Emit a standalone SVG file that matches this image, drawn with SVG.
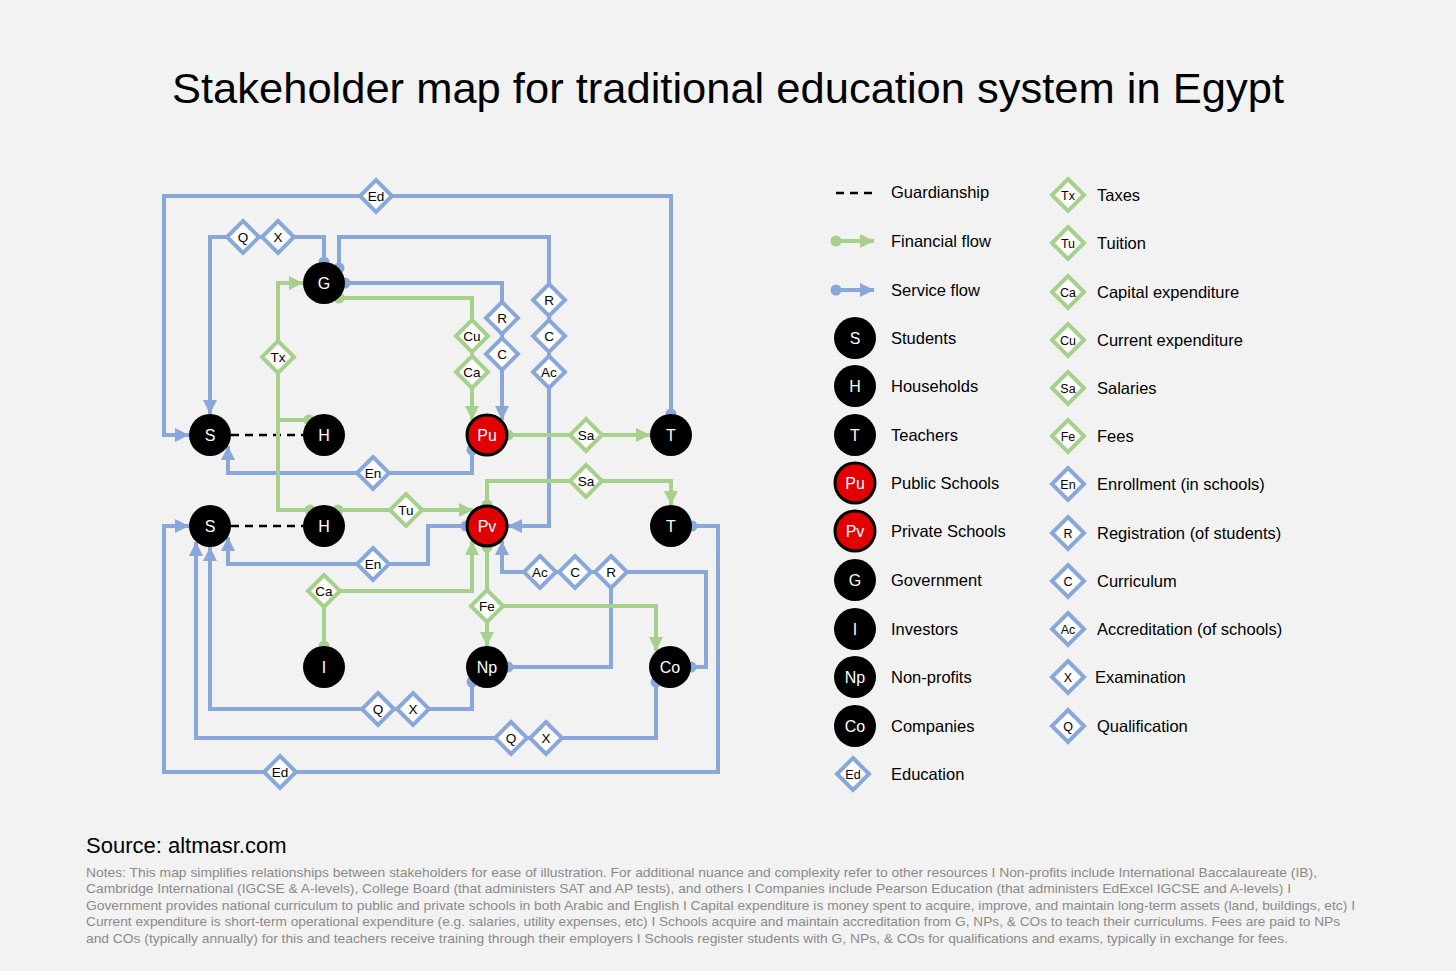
<svg xmlns="http://www.w3.org/2000/svg" width="1456" height="971" viewBox="0 0 1456 971">
<style>
text{font-family:"Liberation Sans",Arial,Helvetica,sans-serif}
.title{font-size:42px;fill:#000}
.svc{fill:none;stroke:#8aa7da;stroke-width:4;stroke-linejoin:miter}
.fin{fill:none;stroke:#a6d08c;stroke-width:4;stroke-linejoin:miter}
.guard{fill:none;stroke:#000;stroke-width:2.5;stroke-dasharray:8 6}
.nd{fill:#000}
.ndr{fill:#e00000;stroke:#000;stroke-width:3}
.nt{fill:#fff;font-size:16px;text-anchor:middle}
.db{fill:#fff;stroke:#8aa7da;stroke-width:4}
.dg{fill:#fff;stroke:#a6d08c;stroke-width:4}
.dt{fill:#000;font-size:13.5px;text-anchor:middle}
.dl{fill:#000;font-size:12.5px;text-anchor:middle}
.lt{fill:#000;font-size:16.5px}
.src{fill:#000;font-size:22px}
.note{fill:#8a8a8a;font-size:13px}
</style>
<defs>
<marker id="ab" markerUnits="userSpaceOnUse" markerWidth="14" markerHeight="14" refX="12" refY="6" orient="auto" viewBox="0 0 12 12"><path d="M0,0 L12,6 L0,12 Z" fill="#8aa7da"/></marker>
<marker id="ag" markerUnits="userSpaceOnUse" markerWidth="14" markerHeight="14" refX="12" refY="6" orient="auto" viewBox="0 0 12 12"><path d="M0,0 L12,6 L0,12 Z" fill="#a6d08c"/></marker>
<marker id="cb" markerUnits="userSpaceOnUse" markerWidth="12" markerHeight="12" refX="6" refY="6" viewBox="0 0 12 12"><circle cx="6" cy="6" r="5.5" fill="#8aa7da"/></marker>
<marker id="cg" markerUnits="userSpaceOnUse" markerWidth="12" markerHeight="12" refX="6" refY="6" viewBox="0 0 12 12"><circle cx="6" cy="6" r="5.5" fill="#a6d08c"/></marker>
<path id="dia" d="M0,-16 L16,0 L0,16 L-16,0 Z"/>
</defs>
<rect x="0" y="0" width="1456" height="971" fill="#f2f2f2"/>
<text class="title" x="172" y="103" textLength="1112" lengthAdjust="spacingAndGlyphs">Stakeholder map for traditional education system in Egypt</text>

<g id="connectors">
<path class="guard" d="M231,435 H303"/>
<path class="guard" d="M231,526 H303"/>
<path class="svc" marker-start="url(#cb)" marker-end="url(#ab)" d="M671,414 V196 H164 V435 H189"/>
<path class="svc" marker-start="url(#cb)" marker-end="url(#ab)" d="M324,262 V237 H210 V414"/>
<path class="svc" marker-start="url(#cb)" marker-end="url(#ab)" d="M339,268 V237 H549 V526 H508"/>
<path class="svc" marker-start="url(#cb)" marker-end="url(#ab)" d="M345,283 H502 V420"/>
<path class="svc" marker-start="url(#cb)" marker-end="url(#ab)" d="M472,450 V473 H228 V446"/>
<path class="svc" marker-start="url(#cb)" marker-end="url(#ab)" d="M466,526 H428 V564 H228 V537"/>
<path class="svc" marker-start="url(#cb)" marker-end="url(#ab)" d="M691,667 H706 V572 H502 V541"/>
<path class="svc" marker-start="url(#cb)" d="M508,667 H611 V572"/>
<path class="svc" marker-start="url(#cb)" marker-end="url(#ab)" d="M472,682 V709 H210 V547"/>
<path class="svc" marker-start="url(#cb)" marker-end="url(#ab)" d="M656,682 V738 H196 V542"/>
<path class="svc" marker-start="url(#cb)" marker-end="url(#ab)" d="M692,526 H718 V772 H164 V526 H189"/>
<path class="fin" marker-start="url(#cg)" marker-end="url(#ag)" d="M309,420 H278 V283 H303"/>
<path class="fin" marker-start="url(#cg)" d="M310,510 H278 V418"/>
<path class="fin" marker-start="url(#cg)" marker-end="url(#ag)" d="M339,298 H472 V420"/>
<path class="fin" marker-start="url(#cg)" marker-end="url(#ag)" d="M338,510 H473"/>
<path class="fin" marker-start="url(#cg)" marker-end="url(#ag)" d="M508,435 H650"/>
<path class="fin" marker-start="url(#cg)" marker-end="url(#ag)" d="M487,505 V481 H671 V505"/>
<path class="fin" marker-start="url(#cg)" marker-end="url(#ag)" d="M324,646 V591 H472 V541"/>
<path class="fin" marker-start="url(#cg)" marker-end="url(#ag)" d="M487,547 V646"/>
<path class="fin" marker-end="url(#ag)" d="M487,606 H656 V651"/>
</g>

<g id="edge-labels">
<g id="lbl-ed1"><use href="#dia" class="db" x="376" y="196"/><text class="dt" x="376" y="201">Ed</text></g>
<g id="lbl-q1"><use href="#dia" class="db" x="243" y="237"/><text class="dt" x="243" y="242">Q</text></g>
<g id="lbl-x1"><use href="#dia" class="db" x="278" y="237"/><text class="dt" x="278" y="242">X</text></g>
<g id="lbl-tx"><use href="#dia" class="dg" x="278" y="357"/><text class="dt" x="278" y="362">Tx</text></g>
<g id="lbl-cu"><use href="#dia" class="dg" x="472" y="336"/><text class="dt" x="472" y="341">Cu</text></g>
<g id="lbl-ca1"><use href="#dia" class="dg" x="472" y="372"/><text class="dt" x="472" y="377">Ca</text></g>
<g id="lbl-r1"><use href="#dia" class="db" x="502" y="318"/><text class="dt" x="502" y="323">R</text></g>
<g id="lbl-c1"><use href="#dia" class="db" x="502" y="354"/><text class="dt" x="502" y="359">C</text></g>
<g id="lbl-r2"><use href="#dia" class="db" x="549" y="300"/><text class="dt" x="549" y="305">R</text></g>
<g id="lbl-c2"><use href="#dia" class="db" x="549" y="336"/><text class="dt" x="549" y="341">C</text></g>
<g id="lbl-ac1"><use href="#dia" class="db" x="549" y="372"/><text class="dt" x="549" y="377">Ac</text></g>
<g id="lbl-sa1"><use href="#dia" class="dg" x="586" y="435"/><text class="dt" x="586" y="440">Sa</text></g>
<g id="lbl-en1"><use href="#dia" class="db" x="373" y="473"/><text class="dt" x="373" y="478">En</text></g>
<g id="lbl-sa2"><use href="#dia" class="dg" x="586" y="481"/><text class="dt" x="586" y="486">Sa</text></g>
<g id="lbl-tu"><use href="#dia" class="dg" x="406" y="510"/><text class="dt" x="406" y="515">Tu</text></g>
<g id="lbl-en2"><use href="#dia" class="db" x="373" y="564"/><text class="dt" x="373" y="569">En</text></g>
<g id="lbl-ca2"><use href="#dia" class="dg" x="324" y="591"/><text class="dt" x="324" y="596">Ca</text></g>
<g id="lbl-fe"><use href="#dia" class="dg" x="487" y="606"/><text class="dt" x="487" y="611">Fe</text></g>
<g id="lbl-ac2"><use href="#dia" class="db" x="540" y="572"/><text class="dt" x="540" y="577">Ac</text></g>
<g id="lbl-c3"><use href="#dia" class="db" x="575" y="572"/><text class="dt" x="575" y="577">C</text></g>
<g id="lbl-r3"><use href="#dia" class="db" x="611" y="572"/><text class="dt" x="611" y="577">R</text></g>
<g id="lbl-q2"><use href="#dia" class="db" x="378" y="709"/><text class="dt" x="378" y="714">Q</text></g>
<g id="lbl-x2"><use href="#dia" class="db" x="413" y="709"/><text class="dt" x="413" y="714">X</text></g>
<g id="lbl-q3"><use href="#dia" class="db" x="511" y="738"/><text class="dt" x="511" y="743">Q</text></g>
<g id="lbl-x3"><use href="#dia" class="db" x="546" y="738"/><text class="dt" x="546" y="743">X</text></g>
<g id="lbl-ed2"><use href="#dia" class="db" x="280" y="772"/><text class="dt" x="280" y="777">Ed</text></g>
</g>

<g id="node-S1"><circle class="nd" cx="210" cy="435" r="21"/><text class="nt" x="210" y="441">S</text></g>
<g id="node-H1"><circle class="nd" cx="324" cy="435" r="21"/><text class="nt" x="324" y="441">H</text></g>
<g id="node-G"><circle class="nd" cx="324" cy="283" r="21"/><text class="nt" x="324" y="289">G</text></g>
<g id="node-Pu"><circle class="ndr" cx="487" cy="435" r="20"/><text class="nt" x="487" y="441">Pu</text></g>
<g id="node-T1"><circle class="nd" cx="671" cy="435" r="21"/><text class="nt" x="671" y="441">T</text></g>
<g id="node-S2"><circle class="nd" cx="210" cy="526" r="21"/><text class="nt" x="210" y="532">S</text></g>
<g id="node-H2"><circle class="nd" cx="324" cy="526" r="21"/><text class="nt" x="324" y="532">H</text></g>
<g id="node-Pv"><circle class="ndr" cx="487" cy="526" r="20"/><text class="nt" x="487" y="532">Pv</text></g>
<g id="node-T2"><circle class="nd" cx="671" cy="526" r="21"/><text class="nt" x="671" y="532">T</text></g>
<g id="node-I"><circle class="nd" cx="324" cy="667" r="21"/><text class="nt" x="324" y="673">I</text></g>
<g id="node-Np"><circle class="nd" cx="487" cy="667" r="21"/><text class="nt" x="487" y="673">Np</text></g>
<g id="node-Co"><circle class="nd" cx="670" cy="667" r="21"/><text class="nt" x="670" y="673">Co</text></g>

<g id="legend">
<path class="guard" d="M836,193 H874"/>
<text class="lt" x="891" y="198">Guardianship</text>
<path class="fin" marker-start="url(#cg)" marker-end="url(#ag)" d="M836,241 H874"/>
<text class="lt" x="891" y="247">Financial flow</text>
<path class="svc" marker-start="url(#cb)" marker-end="url(#ab)" d="M836,290 H874"/>
<text class="lt" x="891" y="296">Service flow</text>
<circle class="nd" cx="855" cy="338" r="21"/><text class="nt" x="855" y="344">S</text><text class="lt" x="891" y="344">Students</text>
<circle class="nd" cx="855" cy="386" r="21"/><text class="nt" x="855" y="392">H</text><text class="lt" x="891" y="392">Households</text>
<circle class="nd" cx="855" cy="435" r="21"/><text class="nt" x="855" y="441">T</text><text class="lt" x="891" y="441">Teachers</text>
<circle class="ndr" cx="855" cy="483" r="20"/><text class="nt" x="855" y="489">Pu</text><text class="lt" x="891" y="489">Public Schools</text>
<circle class="ndr" cx="855" cy="531" r="20"/><text class="nt" x="855" y="537">Pv</text><text class="lt" x="891" y="537">Private Schools</text>
<circle class="nd" cx="855" cy="580" r="21"/><text class="nt" x="855" y="586">G</text><text class="lt" x="891" y="586">Government</text>
<circle class="nd" cx="855" cy="629" r="21"/><text class="nt" x="855" y="635">I</text><text class="lt" x="891" y="635">Investors</text>
<circle class="nd" cx="855" cy="677" r="21"/><text class="nt" x="855" y="683">Np</text><text class="lt" x="891" y="683">Non-profits</text>
<circle class="nd" cx="855" cy="726" r="21"/><text class="nt" x="855" y="732">Co</text><text class="lt" x="891" y="732">Companies</text>
<use href="#dia" class="db" x="853" y="774"/><text class="dl" x="853" y="779">Ed</text><text class="lt" x="891" y="780">Education</text>

<use href="#dia" class="dg" x="1068" y="195"/><text class="dl" x="1068" y="200">Tx</text><text class="lt" x="1097" y="201">Taxes</text>
<use href="#dia" class="dg" x="1068" y="243"/><text class="dl" x="1068" y="248">Tu</text><text class="lt" x="1097" y="249">Tuition</text>
<use href="#dia" class="dg" x="1068" y="292"/><text class="dl" x="1068" y="297">Ca</text><text class="lt" x="1097" y="298">Capital expenditure</text>
<use href="#dia" class="dg" x="1068" y="340"/><text class="dl" x="1068" y="345">Cu</text><text class="lt" x="1097" y="346">Current expenditure</text>
<use href="#dia" class="dg" x="1068" y="388"/><text class="dl" x="1068" y="393">Sa</text><text class="lt" x="1097" y="394">Salaries</text>
<use href="#dia" class="dg" x="1068" y="436"/><text class="dl" x="1068" y="441">Fe</text><text class="lt" x="1097" y="442">Fees</text>
<use href="#dia" class="db" x="1068" y="484"/><text class="dl" x="1068" y="489">En</text><text class="lt" x="1097" y="490">Enrollment (in schools)</text>
<use href="#dia" class="db" x="1068" y="533"/><text class="dl" x="1068" y="538">R</text><text class="lt" x="1097" y="539">Registration (of students)</text>
<use href="#dia" class="db" x="1068" y="581"/><text class="dl" x="1068" y="586">C</text><text class="lt" x="1097" y="587">Curriculum</text>
<use href="#dia" class="db" x="1068" y="629"/><text class="dl" x="1068" y="634">Ac</text><text class="lt" x="1097" y="635">Accreditation (of schools)</text>
<use href="#dia" class="db" x="1068" y="677"/><text class="dl" x="1068" y="682">X</text><text class="lt" x="1095" y="683">Examination</text>
<use href="#dia" class="db" x="1068" y="726"/><text class="dl" x="1068" y="731">Q</text><text class="lt" x="1097" y="732">Qualification</text>
</g>

<g id="footer">
<text class="src" x="86" y="853">Source: altmasr.com</text>
<text class="note" x="86" y="877" textLength="1231" lengthAdjust="spacingAndGlyphs">Notes: This map simplifies relationships between stakeholders for ease of illustration. For additional nuance and complexity refer to other resources I Non-profits include International Baccalaureate (IB),</text>
<text class="note" x="86" y="893" textLength="1205" lengthAdjust="spacingAndGlyphs">Cambridge International (IGCSE &amp; A-levels), College Board (that administers SAT and AP tests), and others I Companies include Pearson Education (that administers EdExcel IGCSE and A-levels) I</text>
<text class="note" x="86" y="910" textLength="1269" lengthAdjust="spacingAndGlyphs">Government provides national curriculum to public and private schools in both Arabic and English I Capital expenditure is money spent to acquire, improve, and maintain long-term assets (land, buildings, etc) I</text>
<text class="note" x="86" y="926" textLength="1254" lengthAdjust="spacingAndGlyphs">Current expenditure is short-term operational expenditure (e.g. salaries, utility expenses, etc) I Schools acquire and maintain accreditation from G, NPs, &amp; COs to teach their curriculums. Fees are paid to NPs</text>
<text class="note" x="86" y="943" textLength="1202" lengthAdjust="spacingAndGlyphs">and COs (typically annually) for this and teachers receive training through their employers I Schools register students with G, NPs, &amp; COs for qualifications and exams, typically in exchange for fees.</text>
</g>
</svg>
